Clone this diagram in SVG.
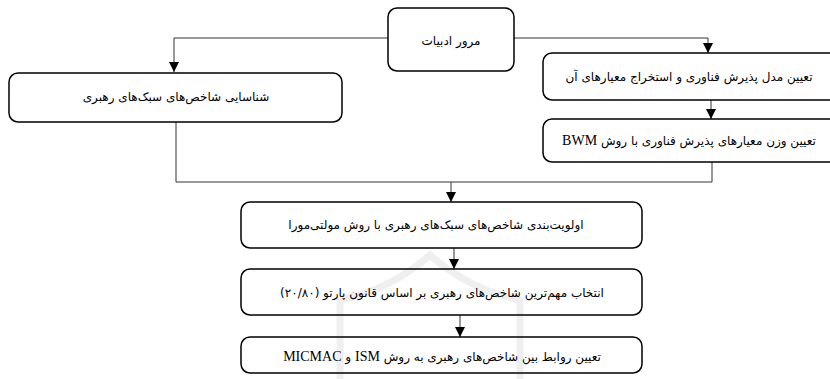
<svg xmlns="http://www.w3.org/2000/svg" width="830" height="379" viewBox="0 0 830 379">
<style>
.box{fill:none;stroke:#000;stroke-width:1.5}
.lbl{font-family:"DejaVu Sans",sans-serif;font-size:12px;fill:#000;direction:rtl;text-anchor:middle}
.lat{font-family:"Liberation Serif",serif;font-size:14px}
.con{fill:none;stroke:#333;stroke-width:1}
.wm{fill:none;stroke:#efefef;stroke-width:7}
</style>
<defs>
<marker id="ah" markerWidth="10" markerHeight="10" refX="10" refY="5" orient="auto" markerUnits="userSpaceOnUse">
<path d="M0,0 L10,5 L0,10 Z" fill="#000"/>
</marker>
</defs>
<rect width="830" height="379" fill="#fff"/>
<g id="watermark">
<path class="wm" d="M340,379 V300 Q390,290 430,255 Q470,290 520,300 V379"/>
</g>
<g id="connectors">
<path class="con" d="M388,38 H174 V72" marker-end="url(#ah)"/>
<path class="con" d="M514,38 H708 V53" marker-end="url(#ah)"/>
<path class="con" d="M711,100 V119" marker-end="url(#ah)"/>
<path class="con" d="M176,122 V182 H712 V162"/>
<path class="con" d="M451,182 V202" marker-end="url(#ah)"/>
<path class="con" d="M454,248 V269" marker-end="url(#ah)"/>
<path class="con" d="M460,315 V337" marker-end="url(#ah)"/>
</g>
<g id="n1"><rect class="box" x="388" y="8" width="126" height="63" rx="9"/><text class="lbl" x="451" y="45">مرور ادبیات</text></g>
<g id="n2"><rect class="box" x="9" y="73" width="333" height="49" rx="9"/><text class="lbl" x="176" y="101">شناسایی شاخص‌های سبک‌های رهبری</text></g>
<g id="n3"><rect class="box" x="543" y="53" width="330" height="47" rx="9"/><text class="lbl" x="689" y="81">تعیین مدل پذیرش فناوری و استخراج معیارهای آن</text></g>
<g id="n4"><rect class="box" x="543" y="119" width="330" height="43" rx="9"/><text class="lbl" x="689" y="145">تعیین وزن معیارهای پذیرش فناوری با روش <tspan class="lat">BWM</tspan></text></g>
<g id="n5"><rect class="box" x="241" y="202" width="401" height="46" rx="9"/><text class="lbl" x="436" y="229">اولویت‌بندی شاخص‌های سبک‌های رهبری با روش مولتی‌مورا</text></g>
<g id="n6"><rect class="box" x="241" y="269" width="401" height="46" rx="9"/><text class="lbl" x="442" y="297">انتخاب مهم‌ترین شاخص‌های رهبری بر اساس قانون پارتو (۲۰/۸۰)</text></g>
<g id="n7"><rect class="box" x="241" y="337" width="401" height="36" rx="9"/><text class="lbl" x="442" y="361">تعیین روابط بین شاخص‌های رهبری به روش <tspan class="lat">ISM</tspan> و <tspan class="lat">MICMAC</tspan></text></g>
</svg>
